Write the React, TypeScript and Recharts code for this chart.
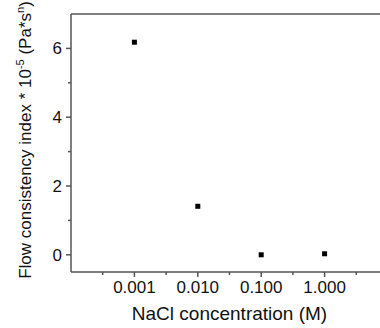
import { ReferenceLine, Scatter, ScatterChart, XAxis, YAxis } from "recharts";

const concentrations = [0.001, 0.01, 0.1, 1];
const consistency = [6.18, 1.41, 0.0, 0.03];

const xMajorTicks = [0.001, 0.01, 0.1, 1];
const xTickLabels = ["0.001", "0.010", "0.100", "1.000"];
const xMinorTicks = [0.000316, 0.00316, 0.0316, 0.316, 3.16];

const yMajorTicks = [0, 2, 4, 6];
const yTickLabels = ["0", "2", "4", "6"];
const yMinorTicks = [1, 3, 5];

const points = concentrations.map((c, i) => ({ c, k: consistency[i] }));

const axisColor = "#555";
const font = "'Liberation Sans', Arial, sans-serif";

function XTick(props: any) {
  const { x, y, payload } = props;
  const i = xMajorTicks.indexOf(payload.value);
  const major = i >= 0;
  return (
    <g>
      <line x1={x} y1={y} x2={x} y2={y + (major ? 5 : 3)} stroke={axisColor} strokeWidth={1.5} />
      {major ? (
        <text x={x} y={y + 21} textAnchor="middle" fontSize={17} fontFamily={font} fill="#111">
          {xTickLabels[i]}
        </text>
      ) : null}
    </g>
  );
}

function YTick(props: any) {
  const { x, y, payload } = props;
  const i = yMajorTicks.indexOf(payload.value);
  const major = i >= 0;
  return (
    <g>
      <line x1={x - (major ? 5 : 3)} y1={y} x2={x} y2={y} stroke={axisColor} strokeWidth={1.5} />
      {major ? (
        <text x={x - 9} y={y + 6} textAnchor="end" fontSize={17} fontFamily={font} fill="#111">
          {yTickLabels[i]}
        </text>
      ) : null}
    </g>
  );
}

function YLabel(props: any) {
  const vb = props.viewBox;
  const cx = vb.x + 31;
  const cy = vb.y + vb.height / 2 - 3;
  return (
    <text x={cx} y={cy} transform={`rotate(-90, ${cx}, ${cy})`} textAnchor="middle" fontSize={17} fontFamily={font} fill="#111">
      Flow consistency index * 10
      <tspan dy={-7} fontSize={11}>-5</tspan>
      <tspan dy={7}> (Pa*s</tspan>
      <tspan dy={-7} fontSize={11}>n</tspan>
      <tspan dy={7}>)</tspan>
    </text>
  );
}

function XLabel(props: any) {
  const vb = props.viewBox;
  return (
    <text x={vb.x + vb.width / 2} y={vb.y + 48} textAnchor="middle" fontSize={19} fontFamily={font} fill="#111">
      NaCl concentration (M)
    </text>
  );
}

function Square(props: any) {
  const { cx, cy } = props;
  return <rect x={cx - 2.5} y={cy - 2.5} width={5} height={5} fill="#000" />;
}

export default function App() {
  return (
    <div style={{ position: "absolute", left: 0, top: 0, width: 380, height: 328, overflow: "hidden", background: "#fff" }}>
      <ScatterChart width={400} height={328} margin={{ top: 14, right: 12, bottom: 0, left: 0 }}>
        <XAxis
          dataKey="c"
          type="number"
          scale="log"
          domain={[0.0001, 10]}
          ticks={[...xMinorTicks, ...xMajorTicks]}
          interval={0}
          tick={<XTick />}
          tickSize={0}
          tickMargin={0}
          tickLine={false}
          height={56}
          axisLine={{ stroke: axisColor, strokeWidth: 1.5 }}
          allowDataOverflow
          label={{ content: (p: any) => <XLabel {...p} /> }}
        />
        <YAxis
          dataKey="k"
          type="number"
          domain={[-0.5, 7]}
          ticks={[...yMinorTicks, ...yMajorTicks]}
          interval={0}
          tick={<YTick />}
          tickSize={0}
          tickMargin={0}
          tickLine={false}
          width={71}
          axisLine={{ stroke: axisColor, strokeWidth: 1.5 }}
          allowDataOverflow
          label={{ content: (p: any) => <YLabel {...p} /> }}
        />
        <ReferenceLine y={7} stroke={axisColor} strokeWidth={1.5} />
        <Scatter data={points} shape={<Square />} isAnimationActive={false} />
      </ScatterChart>
    </div>
  );
}
